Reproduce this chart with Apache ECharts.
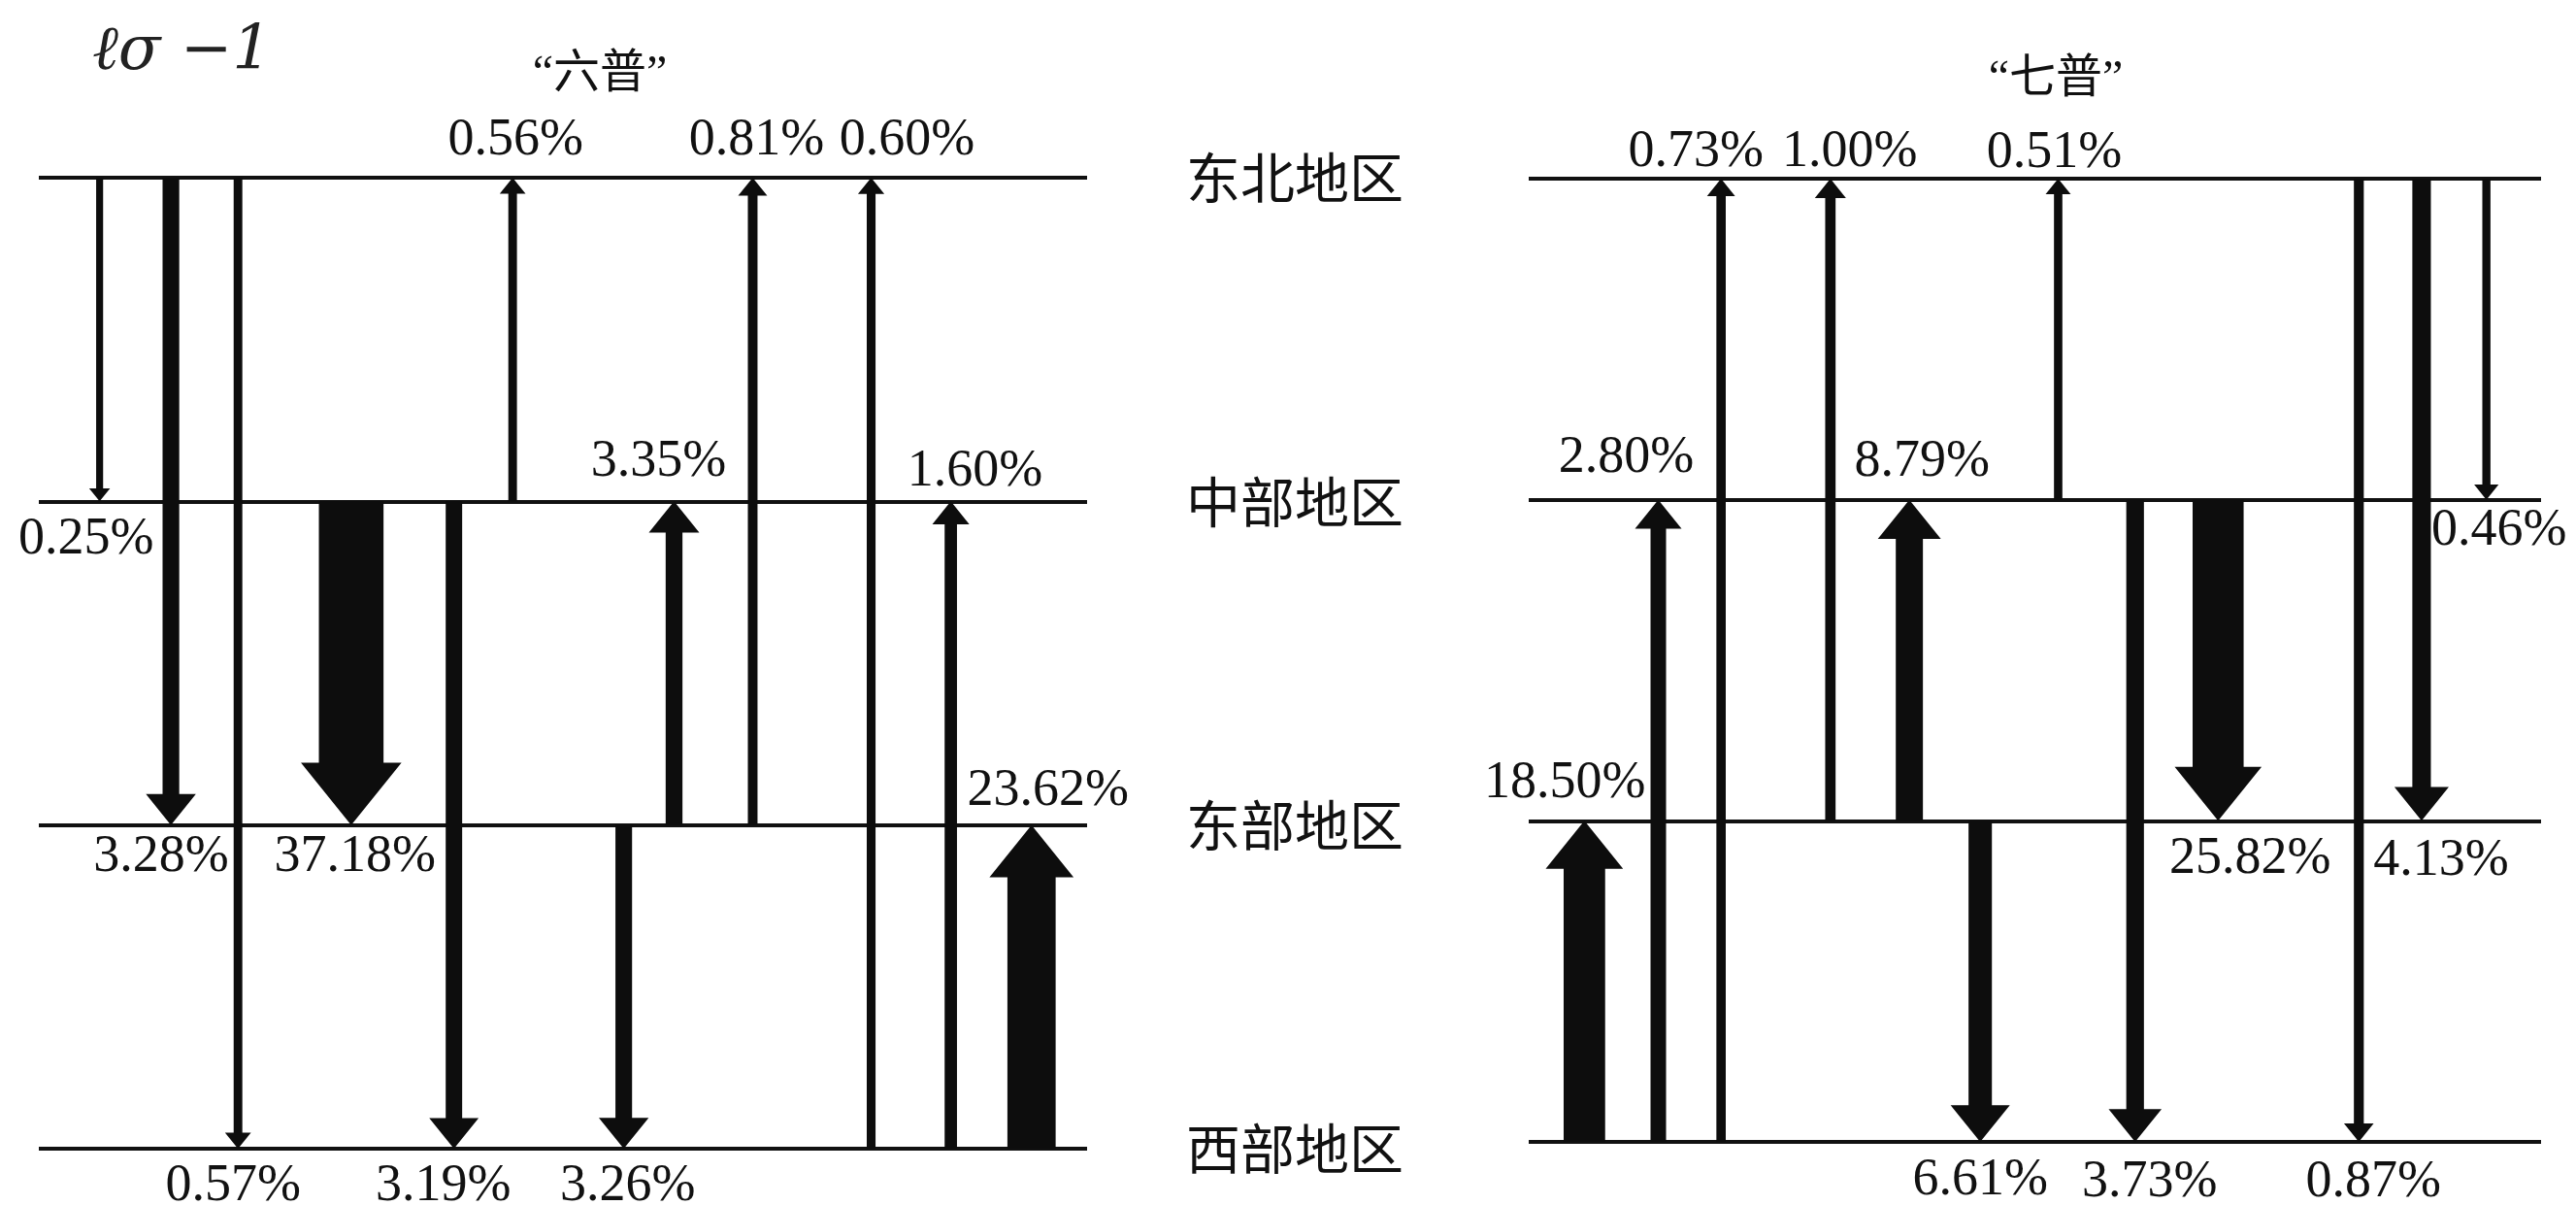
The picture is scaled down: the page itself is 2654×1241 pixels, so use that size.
<!DOCTYPE html>
<html>
<head>
<meta charset="utf-8">
<script src="https://cdn.jsdelivr.net/npm/echarts@6/dist/echarts.min.js"></script>
<style>
html,body{margin:0;padding:0;background:#fff;}
#chart{width:2654px;height:1241px;}
</style>
</head>
<body>
<div id="chart"></div>
<script>
// ---- data ----
const regions = ['西部地区', '东部地区', '中部地区', '东北地区']; // bottom -> top
const censusTitles = ['“六普”', '“七普”'];
const note = 'ℓσ −1';

// "六普" flows
const sixFrom   = ['东北地区','东北地区','东北地区','中部地区','中部地区','中部地区','东部地区','东部地区','东部地区','西部地区','西部地区','西部地区'];
const sixTo     = ['中部地区','东部地区','西部地区','东部地区','西部地区','东北地区','西部地区','中部地区','东北地区','东北地区','中部地区','东部地区'];
const sixValues = [0.25, 3.28, 0.57, 37.18, 3.19, 0.56, 3.26, 3.35, 0.81, 0.60, 1.60, 23.62];

// "七普" flows
const sevenFrom   = ['西部地区','西部地区','西部地区','东部地区','东部地区','东部地区','中部地区','中部地区','中部地区','东北地区','东北地区','东北地区'];
const sevenTo     = ['东部地区','中部地区','东北地区','东北地区','中部地区','西部地区','东北地区','西部地区','东部地区','西部地区','东部地区','中部地区'];
const sevenValues = [18.50, 2.80, 0.73, 1.00, 8.79, 6.61, 0.51, 3.73, 25.82, 0.87, 4.13, 0.46];

// ---- layout (lane position of each arrow along the panel, label offsets) ----
const sixLanes = [5.8, 12.6, 19.0, 29.8, 39.6, 45.2, 55.8, 60.6, 68.1, 79.4, 87.0, 94.7];
const sixLabelOffsets = [[-14,39],[-10,33],[-5,39],[4,33],[-11,39],[3,-38],[4,39],[-16,-41],[4,-38],[37,-38],[25,-31],[17,-35]];
const sevenLanes = [5.5, 12.8, 19.0, 29.8, 37.6, 44.6, 52.3, 59.9, 68.1, 82.0, 88.2, 94.6];
const sevenLabelOffsets = [[-20,-39],[-33,-43],[-26,-27],[20,-27],[13,-39],[0,40],[-4,-26],[15,42],[33,39],[15,42],[20,41],[13,32]];

function idx(name) { return regions.indexOf(name); }
function build(from, to, values, lanes) {
  return values.map((v, i) => [lanes[i], idx(from[i]), idx(to[i]), v]);
}
const shaftW = v => 4 + 6 * Math.sqrt(v) + 0.7 * v;

function makeRender(offsets) {
  return function (params, api) {
    const lane = api.value(0), f = api.value(1), t = api.value(2), v = api.value(3);
    const p0 = api.coord([lane, f]);
    const p1 = api.coord([lane, t]);
    const x = p0[0];
    const dir = p1[1] > p0[1] ? 1 : -1;
    const w = shaftW(v);
    const hw = w + Math.min(37, 2 * w);
    const hl = Math.min(hw * 0.62, Math.abs(p1[1] - p0[1]) * 0.5);
    const by = p1[1] - dir * hl;
    const off = offsets[params.dataIndex];
    return {
      type: 'group',
      children: [
        {
          type: 'polygon',
          shape: { points: [[x - w/2, p0[1]], [x + w/2, p0[1]], [x + w/2, by], [x + hw/2, by], [x, p1[1]], [x - hw/2, by], [x - w/2, by]] },
          style: { fill: '#0d0d0d' }
        },
        {
          type: 'text',
          x: x + off[0],
          y: p1[1] + off[1],
          style: {
            text: v.toFixed(2) + '%',
            fill: '#111',
            font: '54px "Liberation Serif"',
            align: 'center', verticalAlign: 'middle',
            textAlign: 'center', textVerticalAlign: 'middle'
          }
        }
      ]
    };
  };
}

const chart = echarts.init(document.getElementById('chart'));
const yBase = {
  type: 'value', min: 0, max: 3, interval: 1,
  axisLine: { show: false }, axisTick: { show: false },
  splitLine: { show: true, lineStyle: { color: '#111', width: 4 } }
};
chart.setOption({
  backgroundColor: '#ffffff',
  animation: false,
  grid: [
    { left: 40, top: 183, width: 1080, height: 1000 },
    { left: 1575, top: 184, width: 1043, height: 992 }
  ],
  xAxis: [
    { gridIndex: 0, type: 'value', min: 0, max: 100, show: false },
    { gridIndex: 1, type: 'value', min: 0, max: 100, show: false }
  ],
  yAxis: [
    Object.assign({}, yBase, {
      gridIndex: 0, position: 'right',
      axisLabel: {
        show: true, margin: 102, formatter: v => regions[v] || '',
        fontSize: 56, fontFamily: '"Noto Sans CJK SC"', color: '#111'
      }
    }),
    Object.assign({}, yBase, { gridIndex: 1, axisLabel: { show: false } })
  ],
  graphic: [
    { type: 'text', x: 618, y: 77, style: { text: censusTitles[0], font: '48px "Liberation Serif", "Noto Sans CJK SC"', fill: '#111', align: 'center', verticalAlign: 'middle', textAlign: 'center', textVerticalAlign: 'middle' } },
    { type: 'text', x: 2118, y: 82, style: { text: censusTitles[1], font: '48px "Liberation Serif", "Noto Sans CJK SC"', fill: '#111', align: 'center', verticalAlign: 'middle', textAlign: 'center', textVerticalAlign: 'middle' } },
    { type: 'text', x: 95, y: 22, style: { text: note, font: 'italic 64px "DejaVu Serif"', fill: '#222' } }
  ],
  series: [
    {
      type: 'custom', coordinateSystem: 'cartesian2d', xAxisIndex: 0, yAxisIndex: 0,
      silent: true, clip: false,
      data: build(sixFrom, sixTo, sixValues, sixLanes),
      renderItem: makeRender(sixLabelOffsets)
    },
    {
      type: 'custom', coordinateSystem: 'cartesian2d', xAxisIndex: 1, yAxisIndex: 1,
      silent: true, clip: false,
      data: build(sevenFrom, sevenTo, sevenValues, sevenLanes),
      renderItem: makeRender(sevenLabelOffsets)
    }
  ]
});
</script>
</body>
</html>
